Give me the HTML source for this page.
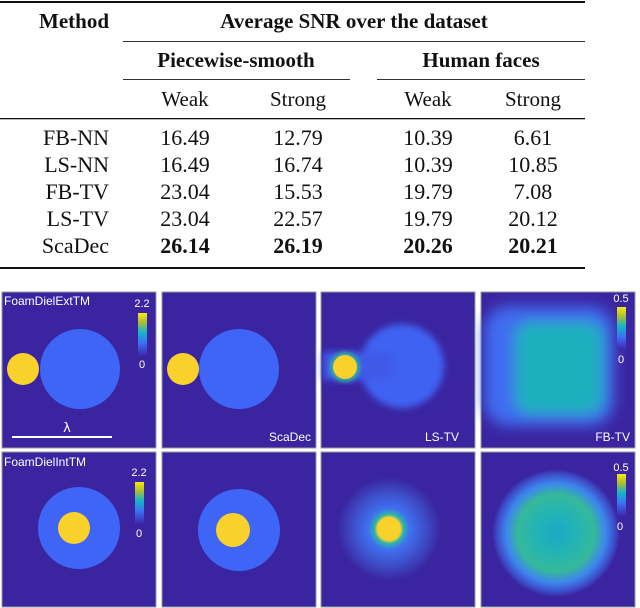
<!DOCTYPE html>
<html><head><meta charset="utf-8"><style>
html,body{margin:0;padding:0;background:#fff;width:640px;height:608px;overflow:hidden}
svg{display:block}
</style></head><body>
<svg width="640" height="608" viewBox="0 0 640 608">
<defs>
<linearGradient id="cb" x1="0" y1="1" x2="0" y2="0">
<stop offset="0" stop-color="#3e26a8"/><stop offset="0.3" stop-color="#3c6ff5"/><stop offset="0.55" stop-color="#14b5c8"/><stop offset="0.8" stop-color="#b2c12a"/><stop offset="1" stop-color="#f9e81a"/>
</linearGradient>
<filter id="b6"><feGaussianBlur stdDeviation="3.5"/></filter>
<filter id="b3"><feGaussianBlur stdDeviation="2"/></filter>
<filter id="b10"><feGaussianBlur stdDeviation="7"/></filter>
<radialGradient id="g3b">
<stop offset="0" stop-color="#f9d12b"/><stop offset="0.22" stop-color="#f9d12b"/><stop offset="0.28" stop-color="#2db5a8"/><stop offset="0.4" stop-color="#3f70f0"/><stop offset="0.7" stop-color="#3d4ec8"/><stop offset="1" stop-color="#3a24a0"/>
</radialGradient>
<radialGradient id="g4b" cx="0.5" cy="0.5">
<stop offset="0" stop-color="#1ba8c6"/><stop offset="0.3" stop-color="#22b3b6"/><stop offset="0.6" stop-color="#35b99a"/><stop offset="0.78" stop-color="#3d86ee"/><stop offset="0.92" stop-color="#3d4cc8"/><stop offset="1" stop-color="#3a24a0"/>
</radialGradient>
</defs>
<g font-family="'Liberation Serif', serif" fill="#111">
<rect x="0" y="1" width="585" height="2" fill="#111"/>
<text x="109" y="28" text-anchor="end" font-weight="bold" font-size="21">Method</text>
<text x="354" y="28" text-anchor="middle" font-weight="bold" font-size="21">Average SNR over the dataset</text>
<rect x="123" y="41" width="462" height="1" fill="#333"/>
<text x="236" y="67" text-anchor="middle" font-weight="bold" font-size="21">Piecewise-smooth</text>
<text x="481" y="67" text-anchor="middle" font-weight="bold" font-size="21">Human faces</text>
<rect x="123" y="79" width="227" height="1" fill="#333"/>
<rect x="377" y="79" width="208" height="1" fill="#333"/>
<g font-size="21" text-anchor="middle">
<text x="185" y="106">Weak</text><text x="298" y="106">Strong</text><text x="428" y="106">Weak</text><text x="533" y="106">Strong</text>
</g>
<rect x="0" y="118" width="585" height="1.3" fill="#111"/>
<g font-size="22" id="rows"></g>
<rect x="0" y="267" width="585" height="2" fill="#111"/>
</g>
<g>
<rect x="2" y="292" width="154" height="156" fill="#3a24a0" stroke="#999" stroke-width="1"/>
<circle cx="80" cy="369" r="40" fill="#3f65f6"/>
<circle cx="23" cy="369" r="16" fill="#f9d12b"/>
<rect x="138" y="313" width="9" height="43" fill="url(#cb)"/>
<text x="142" y="307" text-anchor="middle" fill="#fff" font-family="'Liberation Sans',sans-serif" font-size="11">2.2</text>
<text x="142" y="368" text-anchor="middle" fill="#fff" font-family="'Liberation Sans',sans-serif" font-size="11">0</text>
<text x="4" y="305" fill="#fff" font-family="'Liberation Sans',sans-serif" font-size="12">FoamDielExtTM</text>
<rect x="12" y="436" width="100" height="2" fill="#fff"/>
<text x="67" y="432" text-anchor="middle" fill="#fff" font-family="'DejaVu Sans',sans-serif" font-size="13">λ</text>
</g>
<g>
<rect x="162" y="292" width="154" height="156" fill="#3a24a0" stroke="#999" stroke-width="1"/>
<circle cx="239" cy="369" r="40" fill="#3f65f6"/>
<circle cx="183" cy="369" r="16" fill="#f9d12b"/>
<text x="311" y="441" text-anchor="end" fill="#fff" font-family="'Liberation Sans',sans-serif" font-size="12">ScaDec</text>
</g>
<g>
<rect x="321" y="292" width="154" height="156" fill="#3a24a0" stroke="#999" stroke-width="1"/>
<g filter="url(#b6)"><circle cx="402" cy="366" r="42" fill="#3f62f2"/><rect x="323" y="352" width="70" height="28" fill="#3f5ae8"/></g>
<circle cx="345" cy="367" r="15" fill="#30b0a0" filter="url(#b3)"/>
<circle cx="345" cy="367" r="12" fill="#f9d12b"/>
<text x="459" y="441" text-anchor="end" fill="#fff" font-family="'Liberation Sans',sans-serif" font-size="12">LS-TV</text>
</g>
<g>
<rect x="481" y="292" width="154" height="156" fill="#3a24a0" stroke="#999" stroke-width="1"/>
<g filter="url(#b10)"><rect x="484" y="306" width="130" height="120" rx="25" fill="#3f6cf0"/><rect x="515" y="322" width="88" height="92" rx="15" fill="#1fb0bd"/></g>
<rect x="617" y="307" width="9" height="43" fill="url(#cb)"/>
<text x="621" y="302" text-anchor="middle" fill="#fff" font-family="'Liberation Sans',sans-serif" font-size="11">0.5</text>
<text x="621" y="363" text-anchor="middle" fill="#fff" font-family="'Liberation Sans',sans-serif" font-size="11">0</text>
<text x="630" y="441" text-anchor="end" fill="#fff" font-family="'Liberation Sans',sans-serif" font-size="12">FB-TV</text>
</g>
<g>
<rect x="2" y="452" width="154" height="155" fill="#3a24a0" stroke="#999" stroke-width="1"/>
<circle cx="79" cy="528" r="41" fill="#3f65f6"/>
<circle cx="74" cy="528" r="16" fill="#f9d12b"/>
<rect x="135" y="482" width="9" height="42" fill="url(#cb)"/>
<text x="139" y="476" text-anchor="middle" fill="#fff" font-family="'Liberation Sans',sans-serif" font-size="11">2.2</text>
<text x="139" y="537" text-anchor="middle" fill="#fff" font-family="'Liberation Sans',sans-serif" font-size="11">0</text>
<text x="4" y="466" fill="#fff" font-family="'Liberation Sans',sans-serif" font-size="12">FoamDielIntTM</text>
</g>
<g>
<rect x="162" y="452" width="154" height="155" fill="#3a24a0" stroke="#999" stroke-width="1"/>
<circle cx="239" cy="530" r="41" fill="#3f65f6"/>
<circle cx="233" cy="530" r="17" fill="#f9d12b"/>
</g>
<g>
<rect x="321" y="452" width="154" height="155" fill="#3a24a0" stroke="#999" stroke-width="1"/>
<circle cx="389" cy="529" r="52" fill="url(#g3b)"/>
</g>
<g>
<rect x="481" y="452" width="154" height="155" fill="#3a24a0" stroke="#999" stroke-width="1"/>
<circle cx="556" cy="533" r="64" fill="url(#g4b)"/>
<rect x="617" y="474" width="9" height="42" fill="url(#cb)"/>
<text x="621" y="471" text-anchor="middle" fill="#fff" font-family="'Liberation Sans',sans-serif" font-size="11">0.5</text>
<text x="620" y="530" text-anchor="middle" fill="#fff" font-family="'Liberation Sans',sans-serif" font-size="11">0</text>
</g>
</svg>
<script>
const methods=["FB-NN","LS-NN","FB-TV","LS-TV","ScaDec"];
const pwWeak=["16.49","16.49","23.04","23.04","26.14"];
const pwStrong=["12.79","16.74","15.53","22.57","26.19"];
const hfWeak=["10.39","10.39","19.79","19.79","20.26"];
const hfStrong=["6.61","10.85","7.08","20.12","20.21"];
const NS="http://www.w3.org/2000/svg";
const g=document.getElementById('rows');
const cols=[[pwWeak,185],[pwStrong,298],[hfWeak,428],[hfStrong,533]];
methods.forEach((m,i)=>{
  const y=145+i*27;
  const row=document.createElementNS(NS,'g');
  
  
  const t=document.createElementNS(NS,'text');
  
  
  t.setAttribute('x',109);t.setAttribute('y',y);t.setAttribute('text-anchor','end');
  t.textContent=m;row.appendChild(t);
  cols.forEach(([arr,x])=>{
    const c=document.createElementNS(NS,'text');
    
    
    c.setAttribute('x',x);c.setAttribute('y',y);c.setAttribute('text-anchor','middle');
    if(i===methods.length-1)c.setAttribute('font-weight','bold');
    c.textContent=arr[i];row.appendChild(c);
  });
  g.appendChild(row);
});
</script>
</body></html>
